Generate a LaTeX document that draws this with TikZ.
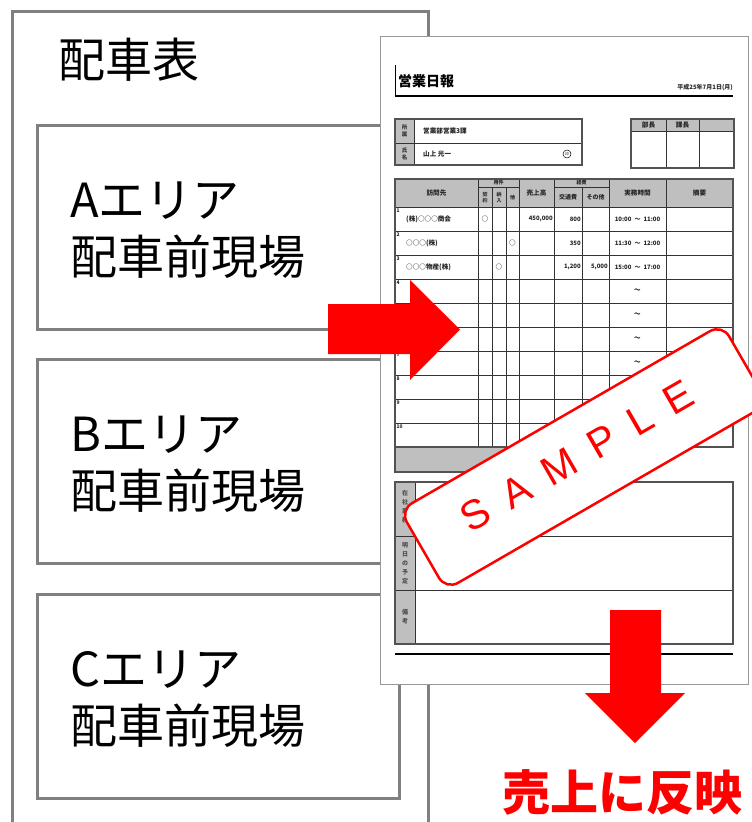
\documentclass[tikz,border=0pt]{standalone}
\usepackage{fontspec}
\newfontfamily\jp{Noto Sans CJK JP}
\newfontfamily\stampf{Liberation Sans}
\definecolor{frameg}{HTML}{808080}
\definecolor{cellg}{HTML}{BFBFBF}
\definecolor{tline}{HTML}{333333}
\definecolor{rred}{HTML}{FF0000}
\tikzset{
  grayframe/.style={draw=frameg, line width=3pt},
  areabox/.style={grayframe, anchor=north west, minimum width=362pt, minimum height=204pt, inner sep=0pt},
  bigtxt/.style={anchor=base west, inner sep=0pt, font=\jp\fontsize{47}{50}\selectfont},
  tl/.style={draw=tline, line width=0.7pt},
  tlo/.style={draw=tline!85, line width=1.1pt},
  ft/.style={inner sep=0pt, font=\jp\bfseries\fontsize{6.6}{7.5}\selectfont, text=black!85},
  ftn/.style={inner sep=0pt, font=\jp\bfseries\fontsize{6}{7}\selectfont, text=black!85},
  fts/.style={inner sep=0pt, font=\jp\bfseries\fontsize{5}{5.5}\selectfont, text=black!85},
  ftv/.style={inner sep=0pt, align=center, font=\jp\bfseries\fontsize{5.5}{7}\selectfont, text=black!80},
  ftvl/.style={inner sep=0pt, align=center, font=\jp\bfseries\fontsize{6}{9}\selectfont, text=black!70},
  redarrow/.style={fill=rred, draw=none},
}
\begin{document}
\begin{tikzpicture}[x=1pt,y=-1pt]
\useasboundingbox (0,0) rectangle (752,822);
\fill[white] (0,0) rectangle (752,822);

% outer frame
\draw[grayframe] (12,830) -- (12,11) -- (428,11) -- (428,830);
\node[bigtxt] (title) at (58,77) {配車表};

% area boxes
\node[areabox] (boxA) at (36,124) {};
\node[areabox] (boxB) at (36,358) {};
\node[areabox] (boxC) at (36,593) {};
\node[bigtxt] (tA1) at (70,217) {Aエリア};
\node[bigtxt] (tA2) at (70,274) {配車前現場};
\node[bigtxt] (tB1) at (70,451) {Bエリア};
\node[bigtxt] (tB2) at (70,508) {配車前現場};
\node[bigtxt] (tC1) at (70,686) {Cエリア};
\node[bigtxt] (tC2) at (70,743) {配車前現場};

% form sheet
\node[draw=black!40, line width=1pt, fill=white, anchor=north west, minimum width=368pt, minimum height=648pt, inner sep=0pt] (form) at (380,36) {};
\node[anchor=base west, inner sep=0pt, font=\jp\bfseries\fontsize{14}{14}\selectfont] (ftitle) at (398,86) {営業日報};
\draw[line width=0.8pt] (395,65) -- (395,96);
\draw[line width=2pt] (394.6,96) -- (733,96);
\node[ftn, anchor=base east] (fdate) at (733,89) {平成25年7月1日(月)};

% affiliation box
\fill[cellg] (395,119) rectangle (414,165);
\draw[tl] (414,119) -- (414,165) (395,143) -- (582,143);
\draw[tlo] (395,119) rectangle (582,165);
\node[ftv] at (404.5,131) {所\\属};
\node[ftv] at (404.5,154) {氏\\名};
\node[ft, anchor=west] at (423,131) {営業部営業3課};
\node[ft, anchor=west] at (423,154) {山上\ 光一};
\draw[line width=0.5pt] (567,154) circle (4pt);
\node[inner sep=0pt, font=\jp\fontsize{3.5}{4}\selectfont] at (567,154) {印};

% approval box
\fill[cellg] (631,119) rectangle (734,131);
\draw[tl] (666,119) -- (666,168) (699,119) -- (699,168) (631,131) -- (734,131);
\draw[tlo] (631,119) rectangle (734,168);
\node[ft] at (648.5,125) {部長};
\node[ft] at (682.5,125) {課長};

% main table
\fill[cellg] (395,179) rectangle (733,207);
\fill[cellg] (395,447) rectangle (609,472);
\draw[tl] (395,207) -- (733,207);
\foreach \k in {1,...,9} \draw[tl] (395,{207+24*\k}) -- (733,{207+24*\k});
\foreach \xx in {478,519,554,609,666} \draw[tl] (\xx,179) -- (\xx,447);
\foreach \xx in {492,506,582} \draw[tl] (\xx,187) -- (\xx,447);
\draw[tl] (478,187) -- (519,187) (554,187) -- (609,187);
\draw[tlo] (395,179) rectangle (733,447);
\draw[tlo] (395,447) rectangle (609,472);

\node[ft] at (436.5,193) {訪問先};
\node[fts] at (498.5,183) {用件};
\node[ftv, font=\jp\bfseries\fontsize{5}{6}\selectfont] at (485,197.5) {契\\約};
\node[ftv, font=\jp\bfseries\fontsize{5}{6}\selectfont] at (499,197.5) {納\\入};
\node[fts] at (512.5,197.5) {他};
\node[ft] at (536.5,193) {売上高};
\node[fts] at (581.5,183) {経費};
\node[ftn] at (568,197.5) {交通費};
\node[ftn] at (595.5,197.5) {その他};
\node[ft] at (637.5,193) {実務時間};
\node[ft] at (699.5,193) {摘要};

\foreach \k in {1,...,10} \node[fts, anchor=north west] at (396.5,{208.5+24*(\k-1)}) {\k};
\foreach \k in {4,...,7} \node[ft] at (637.5,{207+24*\k-12}) {～};

\node[ft, anchor=west] at (406,219) {(株)○○○商会};
\node[ft] at (485,219) {○};
\node[ftn, anchor=east] at (553,219) {450,000};
\node[ftn, anchor=east] at (581,219) {800};
\node[ftn] at (637.5,219) {10:00\hspace{3pt}～\hspace{3pt}11:00};

\node[ft, anchor=west] at (406,243) {○○○(株)};
\node[ft] at (512.5,243) {○};
\node[ftn, anchor=east] at (581,243) {350};
\node[ftn] at (637.5,243) {11:30\hspace{3pt}～\hspace{3pt}12:00};

\node[ft, anchor=west] at (406,267) {○○○物産(株)};
\node[ft] at (499,267) {○};
\node[ftn, anchor=east] at (581,267) {1,200};
\node[ftn, anchor=east] at (608,267) {5,000};
\node[ftn] at (637.5,267) {15:00\hspace{3pt}～\hspace{3pt}17:00};

% lower sections
\fill[cellg] (395,482) rectangle (415,644);
\draw[tl] (415,482) -- (415,644) (395,536) -- (733,536) (395,590) -- (733,590);
\draw[tlo] (395,482) rectangle (733,644);
\node[ftvl] at (405,507) {在\\社\\業\\務};
\node[ftvl] at (405,563) {明\\日\\の\\予\\定};
\node[ftvl] at (405,617) {備\\考};
\draw[line width=1.6pt] (395,654) -- (733,654);

% right arrow
\path[redarrow] (328,304) -- (410,304) -- (410,280) -- (460,329.5) -- (410,380) -- (410,354) -- (328,354) -- cycle;

% stamp
\node[draw=rred, line width=2.5pt, fill=white, rounded corners=14pt, minimum width=372pt, minimum height=92pt, rotate=30, inner sep=0pt] (stamp) at (584,457) {};
\node[rotate=30, inner sep=0pt, text=rred, font=\stampf\fontsize{41}{41}\selectfont] (stamptext) at (577,456) {S\hspace{19pt}A\hspace{19pt}M\hspace{19pt}P\hspace{19pt}L\hspace{19pt}E};

% down arrow
\path[redarrow] (610,610) -- (661,610) -- (661,693) -- (685,693) -- (635,743) -- (585,693) -- (610,693) -- cycle;
\node[anchor=base west, inner sep=0pt, text=rred, font=\jp\bfseries\fontsize{48}{50}\selectfont] (result) at (502,810) {売上に反映};
\end{tikzpicture}
\end{document}
